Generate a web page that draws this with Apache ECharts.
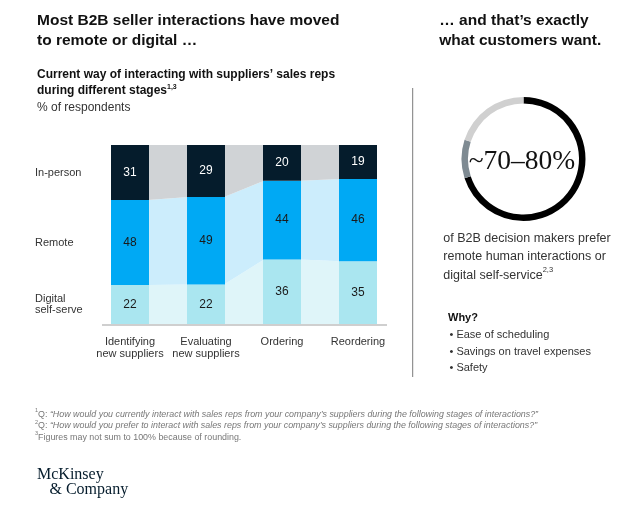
<!DOCTYPE html>
<html><head><meta charset="utf-8">
<script src="https://cdn.jsdelivr.net/npm/echarts@6/dist/echarts.min.js"></script>
<style>html,body{margin:0;padding:0;background:#fff;}#c{width:622px;height:513px;}</style>
</head><body><div id="c"></div>
<script>
// ---- data ----
const categories = ['Identifying\nnew suppliers', 'Evaluating\nnew suppliers', 'Ordering', 'Reordering'];
const digital = [22, 22, 36, 35];
const remote = [48, 49, 44, 46];
const inPerson = [31, 29, 20, 19];
const layerLabels = ['Digital\nself-serve', 'Remote', 'In-person'];
const donutNames = ['Prefer remote/digital', 'Range', 'Other'];
const donutValues = [70, 10, 20];
const donutLabel = '~70\u201380%';
const bullets = ['Ease of scheduling', 'Savings on travel expenses', 'Safety'];

// ---- styling ----
const SANS = "'Liberation Sans', Arial, sans-serif";
const SERIF = "'Liberation Serif', 'Times New Roman', serif";
const barColors = ['#aae6f0', '#00a9f4', '#051c2c'];
const bandColors = ['#dff5f9', '#ccedfc', '#d0d3d6'];
const labelColors = ['#1a1a1a', '#1a1a1a', '#ffffff'];

const totals = categories.map((_, i) => digital[i] + remote[i] + inPerson[i]);
const raw = [digital, remote, inPerson];
const norm = raw.map(arr => arr.map((v, i) => v / totals[i] * 100));

const chart = echarts.init(document.getElementById('c'), null, {renderer: 'canvas'});

function txt(x, y, text, opts) {
  const s = Object.assign({
    x: x, y: y, text: text, fontFamily: SANS, fontSize: 12, fill: '#222',
    align: 'left', verticalAlign: 'top', textAlign: 'left', textVerticalAlign: 'top'
  }, opts || {});
  return {type: 'text', silent: true, style: s};
}

const gaps = [0, 1, 2];

const option = {
  animation: false,
  grid: {left: 92, top: 145, width: 304, height: 179, containLabel: false},
  xAxis: {
    type: 'category', data: categories, boundaryGap: true,
    axisLine: {show: false}, axisTick: {show: false},
    axisLabel: {fontFamily: SANS, fontSize: 11, color: '#333', lineHeight: 12, margin: 12, interval: 0}
  },
  yAxis: {type: 'value', min: 0, max: 100, show: false, splitLine: {show: false}},
  series: [
    {
      type: 'custom', silent: true, z: 1,
      data: gaps.map(g => [g]),
      renderItem: function (params, api) {
        const i = api.value(0);
        const half = api.size([1, 0])[0] * 0.25 - 1;
        let c0 = 0, c1 = 0;
        const children = [];
        for (let L = 0; L < 3; L++) {
          const b0 = c0, b1 = c1;
          c0 += norm[L][i]; c1 += norm[L][i + 1];
          const p1 = api.coord([i, b0]), p2 = api.coord([i, c0]);
          const p3 = api.coord([i + 1, c1]), p4 = api.coord([i + 1, b1]);
          children.push({
            type: 'polygon',
            shape: {points: [[p1[0] + half, p1[1]], [p2[0] + half, p2[1]], [p3[0] - half, p3[1]], [p4[0] - half, p4[1]]]},
            style: {fill: bandColors[L]}
          });
        }
        return {type: 'group', children: children};
      }
    },
    ...[0, 1, 2].map(L => ({
      type: 'bar', stack: 'a', barWidth: '50%', z: 3, silent: true,
      data: norm[L],
      itemStyle: {color: barColors[L]},
      label: {
        show: true, position: 'inside', fontFamily: SANS, fontSize: 12, color: labelColors[L],
        formatter: p => String(raw[L][p.dataIndex])
      }
    })),
    {
      type: 'pie', silent: true, center: [523.5, 159], radius: [55.5, 62],
      startAngle: 90, clockwise: true, label: {show: false}, labelLine: {show: false},
      emphasis: {disabled: true},
      itemStyle: {borderWidth: 0},
      data: donutNames.map((n, k) => ({name: n, value: donutValues[k], itemStyle: {color: ['#000000', '#7e8a92', '#d0d0d0'][k]}}))
    }
  ]
};
chart.setOption(option);

// positions of left row labels from first bar's segments
const rowLabels = [];
let cum = 0;
for (let L = 0; L < 3; L++) {
  const mid = cum + norm[L][0] / 2; cum += norm[L][0];
  const y = chart.convertToPixel({gridIndex: 0}, [0, mid])[1];
  rowLabels.push(txt(35, y, layerLabels[L], {fontSize: 11, fill: '#333', lineHeight: 10.5, verticalAlign: 'middle', textVerticalAlign: 'middle'}));
}

const supRich = {
  b: {fontFamily: SANS, fontSize: 12, fontWeight: 'bold', fill: '#111', verticalAlign: 'bottom', lineHeight: 16},
  s: {fontFamily: SANS, fontSize: 7, fontWeight: 'bold', fill: '#111', verticalAlign: 'top', lineHeight: 16, padding: [3, 0, 0, 0]},
  r: {fontFamily: SANS, fontSize: 12.5, fill: '#333', verticalAlign: 'bottom', lineHeight: 18.3},
  rs: {fontFamily: SANS, fontSize: 7.5, fill: '#333', verticalAlign: 'top', lineHeight: 18.3, padding: [3, 0, 0, 0]},
  f: {fontFamily: SANS, fontSize: 8.9, fontStyle: 'italic', fill: '#777', verticalAlign: 'bottom', lineHeight: 11.5},
  fn: {fontFamily: SANS, fontSize: 8.9, fill: '#777', verticalAlign: 'bottom', lineHeight: 11.5},
  fs: {fontFamily: SANS, fontSize: 5.5, fill: '#777', verticalAlign: 'top', lineHeight: 11.5}
};

const graphics = [
  txt(37, 10.7, 'Most B2B seller interactions have moved\nto remote or digital \u2026', {fontSize: 15.5, fontWeight: 'bold', fill: '#111', lineHeight: 20}),
  {type: 'text', silent: true, style: {x: 37, y: 64.7, text: '{b|Current way of interacting with suppliers\u2019 sales reps}\n{b|during different stages}{s|1,3}', rich: supRich, align: 'left', verticalAlign: 'top'}},
  txt(37, 101.7, '% of respondents', {fontSize: 12, fill: '#333'}),
  txt(439.3, 10.7, '\u2026 and that\u2019s exactly\nwhat customers want.', {fontSize: 15.5, fontWeight: 'bold', fill: '#111', lineHeight: 20}),
  {type: 'line', silent: true, shape: {x1: 412.7, y1: 88, x2: 412.7, y2: 377}, style: {stroke: '#7a7a7a', lineWidth: 1}},
  {type: 'line', silent: true, shape: {x1: 102, y1: 325, x2: 387, y2: 325}, style: {stroke: '#cfcfcf', lineWidth: 2}},
  txt(522, 162, donutLabel, {fontFamily: SERIF, fontSize: 27.5, fill: '#111', align: 'center', textAlign: 'center', verticalAlign: 'middle', textVerticalAlign: 'middle'}),
  {type: 'text', silent: true, style: {x: 443.3, y: 226.8, text: '{r|of B2B decision makers prefer}\n{r|remote human interactions or}\n{r|digital self-service}{rs|2,3}', rich: supRich, align: 'left', verticalAlign: 'top'}},
  txt(448, 309.4, 'Why?', {fontSize: 11, fontWeight: 'bold', fill: '#111', lineHeight: 16.7}),
  txt(449.5, 326.6, bullets.map(b => '\u2022 ' + b).join('\n'), {fontSize: 11, fill: '#333', lineHeight: 16.7}),
  {type: 'text', silent: true, style: {x: 35, y: 407.5, align: 'left', verticalAlign: 'top', rich: supRich,
    text: '{fs|1}{fn|Q: }{f|\u201cHow would you currently interact with sales reps from your company\u2019s suppliers during the following stages of interactions?\u201d}\n' +
          '{fs|2}{fn|Q: }{f|\u201cHow would you prefer to interact with sales reps from your company\u2019s suppliers during the following stages of interactions?\u201d}\n' +
          '{fs|3}{fn|Figures may not sum to 100% because of rounding.}'}},
  txt(37, 466.5, 'McKinsey', {fontFamily: SERIF, fontSize: 16, fill: '#051c2c'}),
  txt(49.5, 481.5, '& Company', {fontFamily: SERIF, fontSize: 16, fill: '#051c2c'})
].concat(rowLabels);

chart.setOption({graphic: {elements: graphics}});
</script>
</body></html>
